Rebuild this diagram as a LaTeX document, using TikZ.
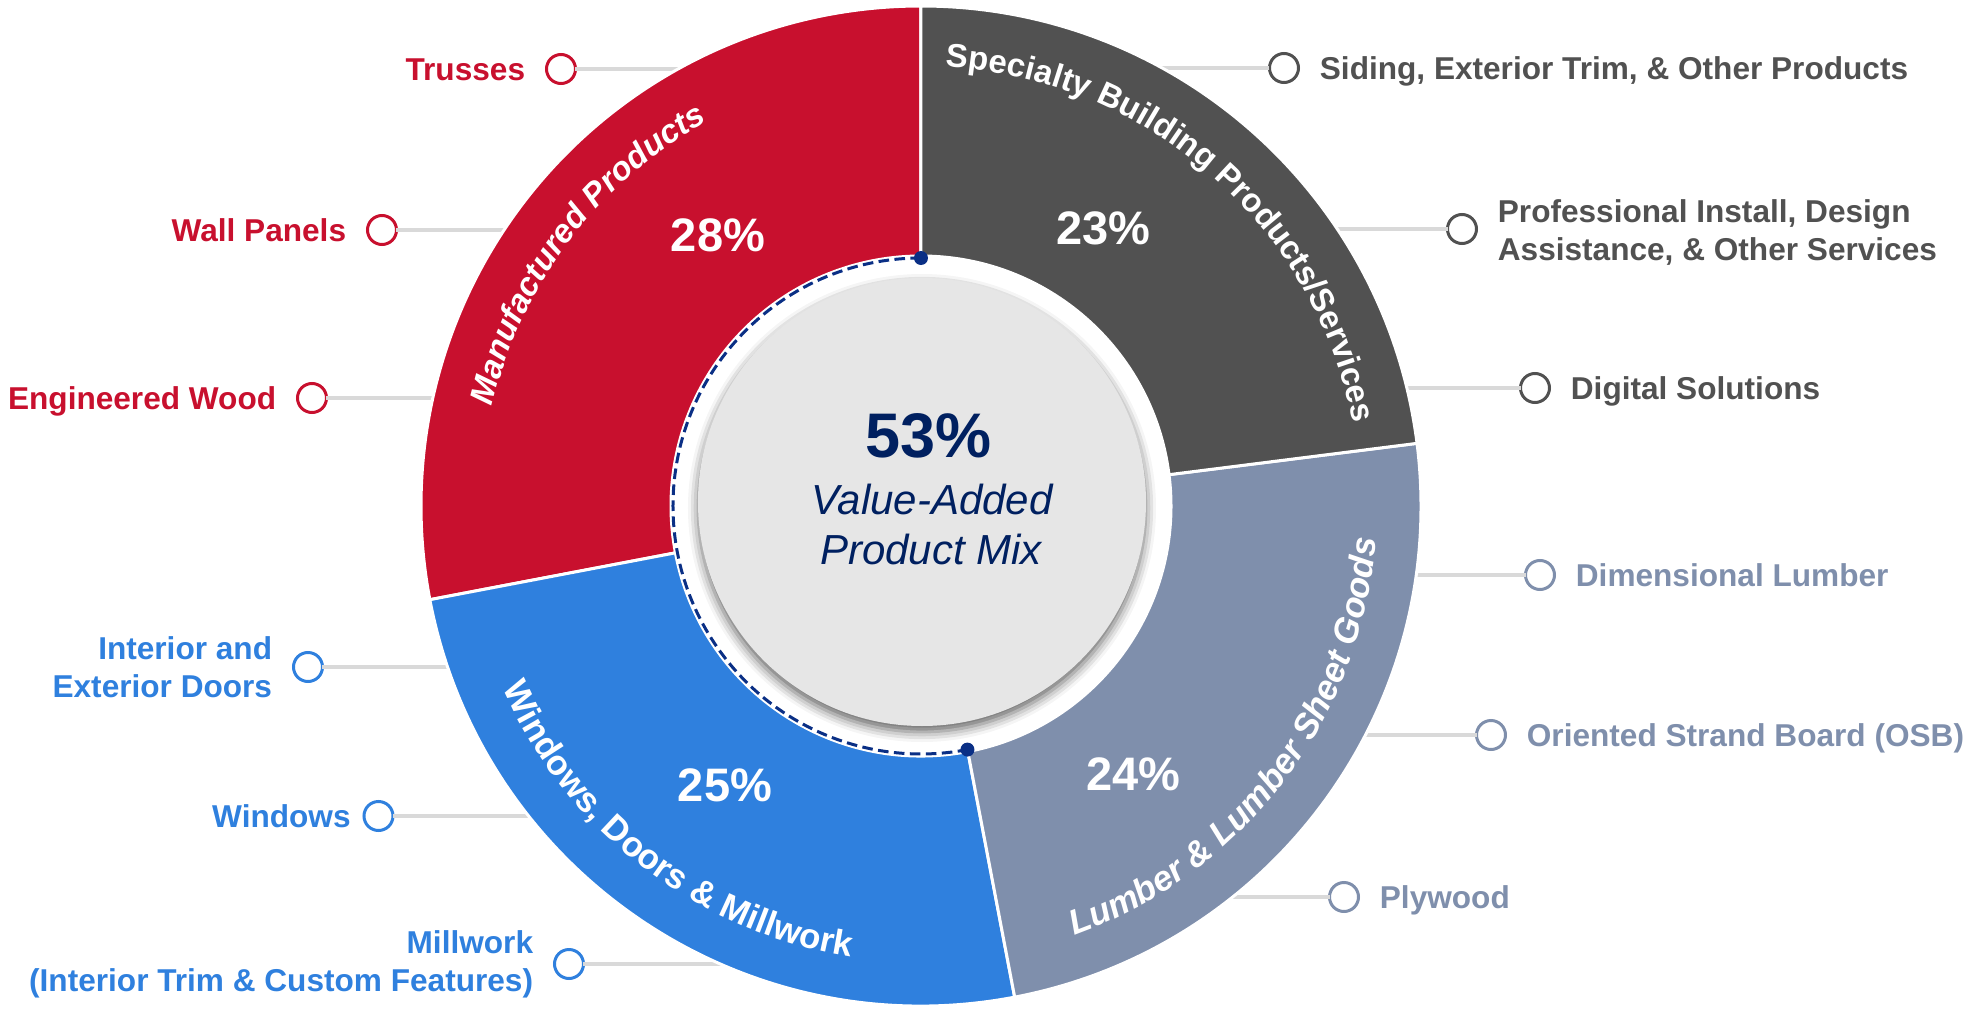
\documentclass[tikz,border=0pt]{standalone}
\usepackage{fontspec}
\setmainfont{Liberation Sans}
\usetikzlibrary{positioning,decorations.text,shadows.blur}

\definecolor{mfgred}{HTML}{C8102E}
\definecolor{specgray}{HTML}{515151}
\definecolor{lumberslate}{HTML}{7F8FAC}
\definecolor{windowblue}{HTML}{2F80DE}
\definecolor{mixnavy}{HTML}{002060}
\definecolor{dashnavy}{HTML}{0A2F85}
\definecolor{leadergray}{HTML}{D9D9D9}
\definecolor{hubgray}{HTML}{E6E6E6}

\newcommand\ringup{\fontsize{16.5}{20}\selectfont\bfseries}
\newcommand\ringlow{\fontsize{17.5}{21}\selectfont\bfseries}

\tikzset{
  labeldot/.style={circle, draw=#1, fill=white, line width=1.5pt, minimum size=14.5pt, inner sep=0pt, outer sep=0pt},
  labeltext/.style={text=#1, font=\fontsize{15.8}{19}\selectfont\bfseries, inner sep=0pt},
  oneline/.style={text height=11.4pt, text depth=0pt},
  leader/.style={draw=leadergray, line width=2pt},
  slice/.style={fill=#1, draw=white, line width=1.5pt},
  pct/.style={text=white, font=\fontsize{23.5}{28}\selectfont\bfseries, inner sep=0pt},
  enddot/.style={circle, fill=dashnavy, minimum size=7pt, inner sep=0pt}
}

\begin{document}
\begin{tikzpicture}[x=0.5pt, y=0.5pt]
  \useasboundingbox (-921,-502) rectangle (1046,506);

  % labels on the left
  \node[labeldot=mfgred] (trussDot) at (-360,437) {};
  \node[labeltext=mfgred, oneline, left=10.5pt of trussDot] (truss) {Trusses};
  \node[labeldot=mfgred] (wallDot) at (-539,276) {};
  \node[labeltext=mfgred, oneline, left=10.5pt of wallDot] (wall) {Wall Panels};
  \node[labeldot=mfgred] (engDot) at (-609,108) {};
  \node[labeltext=mfgred, oneline, left=10.5pt of engDot] (eng) {Engineered Wood};
  \node[labeldot=windowblue] (doorDot) at (-613,-161) {};
  \node[labeltext=windowblue, align=right, left=10.5pt of doorDot] (door) {Interior and\\Exterior Doors};
  \node[labeldot=windowblue] (windowDot) at (-542.5,-310) {};
  \node[labeltext=windowblue, oneline, left=6.5pt of windowDot] (window) {Windows};
  \node[labeldot=windowblue] (millDot) at (-352,-458) {};
  \node[labeltext=windowblue, align=right, left=10.5pt of millDot] (mill) {Millwork\\(Interior Trim \& Custom Features)};

  % labels on the right
  \node[labeldot=specgray] (sidingDot) at (363,438) {};
  \node[labeltext=specgray, oneline, right=10.5pt of sidingDot] (siding) {Siding, Exterior Trim, \& Other Products};
  \node[labeldot=specgray] (installDot) at (541,277) {};
  \node[labeltext=specgray, align=left, right=10.5pt of installDot, yshift=-1.5pt] (install) {Professional Install, Design\\Assistance, \& Other Services};
  \node[labeldot=specgray] (digitalDot) at (614,118) {};
  \node[labeltext=specgray, oneline, right=10.5pt of digitalDot] (digital) {Digital Solutions};
  \node[labeldot=lumberslate] (dimDot) at (619,-69) {};
  \node[labeltext=lumberslate, oneline, right=10.5pt of dimDot] (dim) {Dimensional Lumber};
  \node[labeldot=lumberslate] (osbDot) at (570,-229) {};
  \node[labeltext=lumberslate, oneline, right=10.5pt of osbDot] (osb) {Oriented Strand Board (OSB)};
  \node[labeldot=lumberslate] (plyDot) at (423,-391) {};
  \node[labeltext=lumberslate, oneline, right=10.5pt of plyDot] (ply) {Plywood};

  % leader ends, hidden under the ring
  \coordinate (trussEnd) at (-225,437);
  \coordinate (wallEnd) at (-400,276);
  \coordinate (engEnd) at (-470,108);
  \coordinate (doorEnd) at (-455,-161);
  \coordinate (windowEnd) at (-375,-310);
  \coordinate (millEnd) at (-175,-458);
  \coordinate (sidingEnd) at (225,438);
  \coordinate (installEnd) at (400,277);
  \coordinate (digitalEnd) at (470,118);
  \coordinate (dimEnd) at (478,-69);
  \coordinate (osbEnd) at (428,-229);
  \coordinate (plyEnd) at (295,-391);

  \draw[leader] (trussDot) -- (trussEnd);
  \draw[leader] (wallDot) -- (wallEnd);
  \draw[leader] (engDot) -- (engEnd);
  \draw[leader] (doorDot) -- (doorEnd);
  \draw[leader] (windowDot) -- (windowEnd);
  \draw[leader] (millDot) -- (millEnd);
  \draw[leader] (sidingDot) -- (sidingEnd);
  \draw[leader] (installDot) -- (installEnd);
  \draw[leader] (digitalDot) -- (digitalEnd);
  \draw[leader] (dimDot) -- (dimEnd);
  \draw[leader] (osbDot) -- (osbEnd);
  \draw[leader] (plyDot) -- (plyEnd);

  % the ring
  \path[slice=mfgred] (90:500) arc[start angle=90, end angle=190.8, radius=500]
    -- (190.8:250) arc[start angle=190.8, end angle=90, radius=250] -- cycle;
  \path[slice=windowblue] (190.8:500) arc[start angle=190.8, end angle=280.8, radius=500]
    -- (280.8:250) arc[start angle=280.8, end angle=190.8, radius=250] -- cycle;
  \path[slice=lumberslate] (280.8:500) arc[start angle=280.8, end angle=367.2, radius=500]
    -- (367.2:250) arc[start angle=367.2, end angle=280.8, radius=250] -- cycle;
  \path[slice=specgray] (7.2:500) arc[start angle=7.2, end angle=90, radius=500]
    -- (90:250) arc[start angle=90, end angle=7.2, radius=250] -- cycle;

  % ring titles
  \path[decorate, decoration={text along path, text color=white, text align=center,
    text={|\ringup\itshape|Manufactured Products}}]
    (188:440) arc[start angle=188, end angle=98, radius=440];
  \path[decorate, decoration={text along path, text color=white, text align=center,
    text={|\ringup|Specialty Building Products/Services}}]
    (98.8:440) arc[start angle=98.8, end angle=-1.2, radius=440];
  \path[decorate, decoration={text along path, text color=white, text align=center,
    text={|\ringlow\itshape|Lumber {\&} Lumber Sheet Goods}}]
    (-87.2:456) arc[start angle=-87.2, end angle=12.8, radius=456];
  \path[decorate, decoration={text along path, text color=white, text align=center,
    text={|\ringlow|Windows, Doors {\&} Millwork}}]
    (187.3:456) arc[start angle=187.3, end angle=277.3, radius=456];

  \node[pct] (mfgPct) at (-203,271) {28\%};
  \node[pct] (specPct) at (182.5,277.5) {23\%};
  \node[pct] (windowPct) at (-196,-279.5) {25\%};
  \node[pct] (lumberPct) at (212.5,-268) {24\%};

  % hub
  \path[fill=hubgray, blur shadow={shadow xshift=0pt, shadow yshift=-3pt,
    shadow blur radius=5pt, shadow opacity=60}] (1,4) circle[radius=224];

  \node[enddot] (dashTop) at (90:248) {};
  \node[enddot] (dashEnd) at (280.8:248) {};
  \draw[dashnavy, line width=1.5pt, dash pattern=on 5.3pt off 2.7pt]
    (dashTop.center) arc[start angle=90, end angle=280.8, radius=248];

  \node[text=mixnavy, font=\fontsize{31.5}{36}\selectfont\bfseries, inner sep=0pt] (mixPct) at (7.5,70.5) {53\%};
  \node[text=mixnavy, font=\fontsize{21}{25}\selectfont\itshape, inner sep=0pt, anchor=base] (valueTxt) at (11,-8) {Value-Added};
  \node[text=mixnavy, font=\fontsize{21}{25}\selectfont\itshape, inner sep=0pt, anchor=base] (mixTxt) at (10,-58) {Product Mix};
\end{tikzpicture}
\end{document}
